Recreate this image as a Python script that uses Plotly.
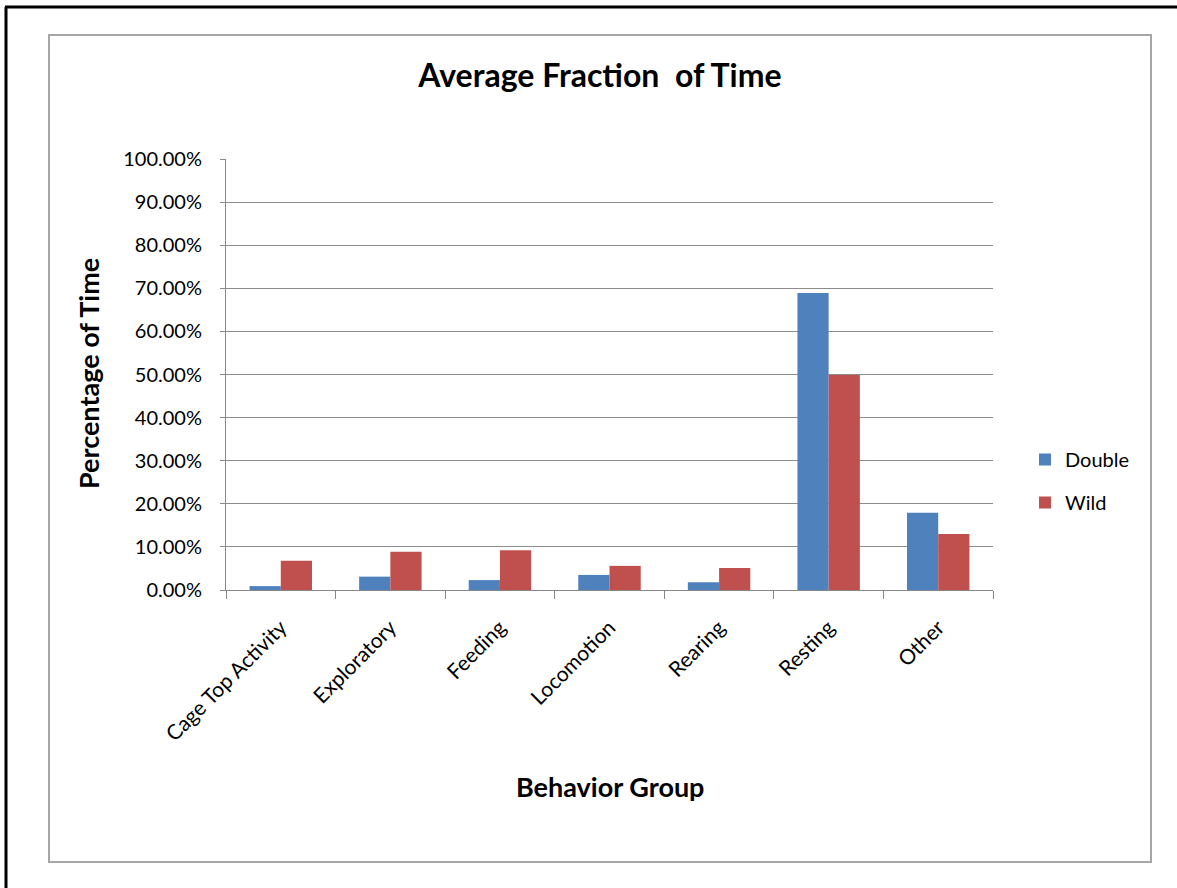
import plotly.graph_objects as go

# Behaviour categories and the mean fraction of time spent in each
categories = ["Cage Top Activity", "Exploratory", "Feeding", "Locomotion",
              "Rearing", "Resting", "Other"]
double_vals = [0.009, 0.031, 0.023, 0.035, 0.018, 0.689, 0.179]
wild_vals = [0.068, 0.089, 0.092, 0.056, 0.051, 0.499, 0.130]
y_ticks = [i / 10 for i in range(11)]

FONT = "Lato"
W, H = 1177, 888
L, R, T, B = 226, 993, 159, 590  # plot area in pixels


def px(x):
    """Pixel column -> paper (plot-area) x coordinate."""
    return (x - L) / (R - L)


def py(y):
    """Pixel row -> paper (plot-area) y coordinate."""
    return (B - y) / (B - T)


fig = go.Figure()
fig.add_trace(go.Bar(name="Double", x=categories, y=double_vals,
                     marker=dict(color="#4F81BD", line=dict(width=0)),
                     legendgroup="d"))
fig.add_trace(go.Bar(name="Wild", x=categories, y=wild_vals,
                     marker=dict(color="#C0504D", line=dict(width=0)),
                     legendgroup="w"))

fig.update_layout(
    width=W, height=H,
    margin=dict(l=L, r=W - R, t=T, b=H - B, pad=0),
    paper_bgcolor="white", plot_bgcolor="white",
    barmode="group", bargap=0.43, bargroupgap=0,
    font=dict(family=FONT, color="#000000", size=20),
    title=dict(text="<b>Average Fraction\u00a0 of Time</b>",
               font=dict(family=FONT, size=32, color="#000000"),
               x=px(600), xanchor="center", xref="paper",
               y=1 - 76 / H, yanchor="middle", yref="container"),
    legend=dict(x=px(1025), xanchor="left", y=py(481), yanchor="middle",
                traceorder="grouped", tracegroupgap=14,
                font=dict(family=FONT, size=20, color="#000000"),
                itemwidth=30, bgcolor="rgba(0,0,0,0)"),
    showlegend=True,
)

fig.update_xaxes(
    type="category", tickangle=-45, tickson="boundaries",
    ticks="outside", ticklen=8, tickcolor="#888888", tickwidth=1,
    showline=True, linecolor="#888888", linewidth=1,
    showgrid=False, ticklabelstandoff=16,
    tickfont=dict(family=FONT, size=21, color="#000000"),
)
fig.update_yaxes(
    range=[0, 1], tickvals=y_ticks, tickformat=".2%",
    ticks="outside", ticklen=5, tickcolor="#888888", tickwidth=1,
    showline=True, linecolor="#888888", linewidth=1,
    showgrid=True, gridcolor="#8c8c8c", gridwidth=1,
    zeroline=False, ticklabelstandoff=14,
    tickfont=dict(family=FONT, size=20, color="#000000"),
)

# Axis titles
fig.add_annotation(text="<b>Behavior Group</b>", x=px(610), y=py(786),
                   xref="paper", yref="paper", showarrow=False,
                   xanchor="center", yanchor="middle",
                   font=dict(family=FONT, size=27, color="#000000"))
fig.add_annotation(text="<b>Percentage of Time</b>", x=px(88), y=py(374),
                   xref="paper", yref="paper", showarrow=False, textangle=-90,
                   xanchor="center", yanchor="middle",
                   font=dict(family=FONT, size=27, color="#000000"))

# Outer frame (top and left) and inner chart-area border
fig.add_shape(type="rect", xref="paper", yref="paper",
              x0=px(49), x1=px(1151), y0=py(862), y1=py(35),
              line=dict(color="#a6a6a6", width=2), layer="below")
fig.add_shape(type="line", xref="paper", yref="paper",
              x0=px(5), x1=px(1177), y0=py(7), y1=py(7),
              line=dict(color="#000000", width=3))
fig.add_shape(type="line", xref="paper", yref="paper",
              x0=px(6), x1=px(6), y0=py(7), y1=py(888),
              line=dict(color="#000000", width=3))

fig.write_html("out.html")
